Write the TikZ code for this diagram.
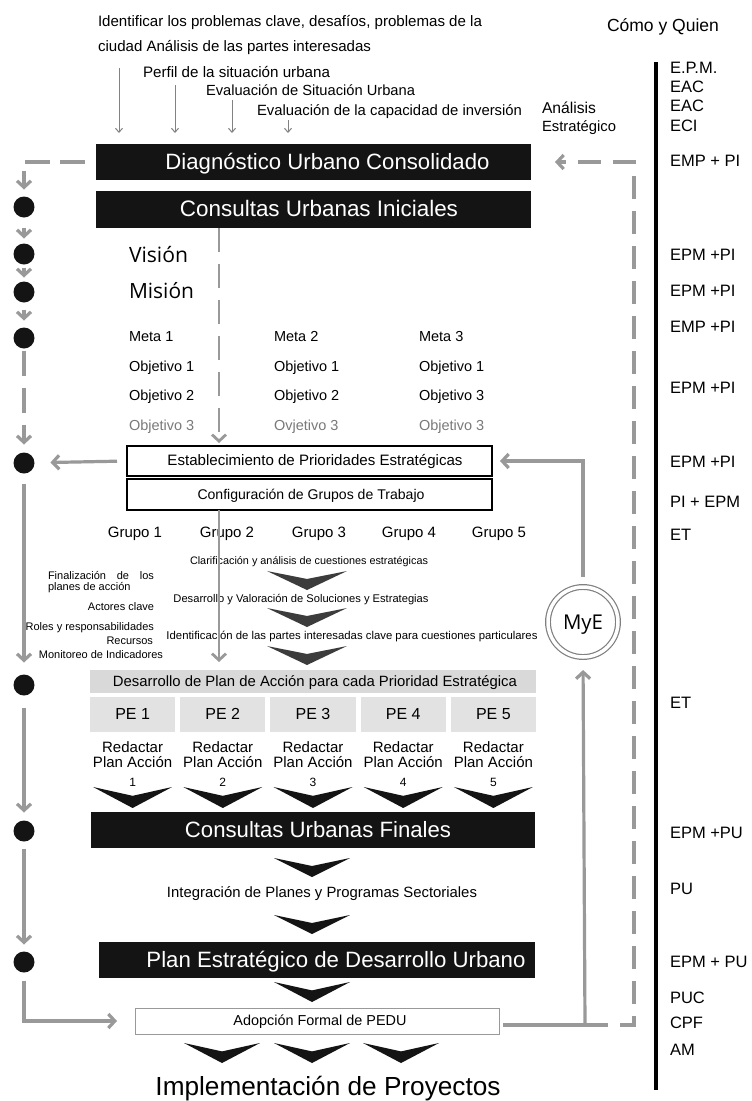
\documentclass[tikz,border=0pt]{standalone}
\usepackage{fontspec}
\setmainfont{Liberation Sans}
\newfontfamily\osf{Open Sans}
\usetikzlibrary{arrows.meta}
\definecolor{lineg}{HTML}{999999}
\definecolor{boxk}{HTML}{141414}
\definecolor{hdr}{HTML}{D9D9D9}
\definecolor{pec}{HTML}{E2E2E2}
\definecolor{chevg}{HTML}{3C3C3C}
\definecolor{txtg}{HTML}{7A7A7A}
\newcommand\tw[2]{\resizebox{#1pt}{!}{\vphantom{Ág}#2}}
\newcommand\chev[5]{\fill[#5] (#1-#3/2,#2) -- (#1,#2+#4*0.42) -- (#1+#3/2,#2) -- (#1,#2+#4) -- cycle;}
\begin{document}
\begin{tikzpicture}[x=1pt,y=-1pt,
  every node/.style={inner sep=0pt,outer sep=0pt},
  gline/.style={draw=lineg,line width=3.2pt},
  garrow/.style={gline,-{Straight Barb[length=6.5pt,width=14pt]}},
  rdash/.style={gline,dash pattern=on 23pt off 12pt},
  thinarr/.style={draw=lineg!85!black,line width=1pt,-{Straight Barb[length=4pt,width=7pt]}},
  blackbox/.style={fill=boxk,text=white,minimum width=435pt,minimum height=36pt},
  whitebox/.style={draw=black,line width=1.3pt,fill=white,minimum width=365pt,minimum height=30pt},
  circ/.style={circle,fill=boxk,minimum size=21pt},
  rl/.style={anchor=west,font=\fontsize{16.5}{18}\selectfont},
  obj/.style={anchor=west,font=\fontsize{14.5}{16}\selectfont},
  grp/.style={font=\fontsize{15}{16}\selectfont},
  lt/.style={font=\fontsize{11}{12}\selectfont},
  pecell/.style={fill=pec,minimum width=85.2pt,minimum height=35pt,font=\fontsize{16}{16}\selectfont},
  red/.style={align=center,font=\fontsize{15}{15}\selectfont}
]
\fill[white] (0,0) rectangle (752,1101);
\useasboundingbox (0,0) rectangle (752,1101);

% ---------- top texts ----------
\node[anchor=west] (t1) at (98,22) {\tw{384}{Identificar los problemas clave, desafíos, problemas de la}};
\node[anchor=west] (t2) at (98,47) {\tw{273}{ciudad Análisis de las partes interesadas}};
\node[anchor=west] (t3) at (143,72) {\tw{187}{Perfil de la situación urbana}};
\node[anchor=west] (t4) at (206,91) {\tw{209}{Evaluación de Situación Urbana}};
\node[anchor=west] (t5) at (257,111) {\tw{265}{Evaluación de la capacidad de inversión}};
\node[anchor=west] (ae1) at (542,108) {\tw{54}{Análisis}};
\node[anchor=west] (ae2) at (542,127) {\tw{74}{Estratégico}};
\node[anchor=west] (cq) at (607,26) {\tw{112}{Cómo y Quien}};

% ---------- main boxes ----------
\node[blackbox] (diag) at (313.5,162) {\hspace*{28pt}\tw{324}{Diagnóstico Urbano Consolidado}};
\node[blackbox,minimum height=37pt] (cui) at (313.5,209.5) {\hspace*{11pt}\tw{278}{Consultas Urbanas Iniciales}};

\coordinate (a1) at (119,68);
\coordinate (a2) at (175,85);
\coordinate (a3) at (232,100);
\coordinate (a4) at (288,120);
\foreach \a in {a1,a2,a3,a4}{\draw[thinarr,shorten >=11pt] (\a) -- (\a |- diag.north);}

% ---------- vision / mision / metas ----------
\node[anchor=west] (vis) at (129,255) {\osf\tw{59}{Visión}};
\node[anchor=west] (mis) at (129,291) {\osf\tw{65}{Misión}};
\node[obj] (m1) at (129,337) {Meta 1};
\node[obj] (m2) at (274,337) {Meta 2};
\node[obj] (m3) at (419,337) {Meta 3};
\node[obj] (o11) at (129,368) {Objetivo 1};
\node[obj] (o21) at (274,368) {Objetivo 1};
\node[obj] (o31) at (419,368) {Objetivo 1};
\node[obj] (o12) at (129,397) {Objetivo 2};
\node[obj] (o22) at (274,397) {Objetivo 2};
\node[obj] (o32) at (419,397) {Objetivo 3};
\node[obj,text=txtg] (o13) at (129,427) {Objetivo 3};
\node[obj,text=txtg] (o23) at (274,427) {Ovjetivo 3};
\node[obj,text=txtg] (o33) at (419,427) {Objetivo 3};

% ---------- prioridades ----------
\node[whitebox] (estab) at (309.5,461) {\hspace*{11pt}\tw{295}{Establecimiento de Prioridades Estratégicas}};
\node[whitebox,minimum height=31pt] (config) at (309.5,494.5) {\hspace*{3pt}\tw{227}{Configuración de Grupos de Trabajo}};

\node[grp] (g1) at (135,534) {Grupo 1};
\node[grp] (g2) at (227,534) {Grupo 2};
\node[grp] (g3) at (319,534) {Grupo 3};
\node[grp] (g4) at (409,534) {Grupo 4};
\node[grp] (g5) at (499,534) {Grupo 5};

\node (q1) at (309,561) {\tw{238}{Clarificación y análisis de cuestiones estratégicas}};
\chev{307}{571}{80}{19}{chevg}
\node (q2) at (301,599) {\tw{255}{Desarrollo y Valoración de Soluciones y Estrategias}};
\chev{307}{608}{80}{19}{chevg}
\node (q3) at (352,636) {\tw{371}{Identificación de las partes interesadas clave para cuestiones particulares}};
\chev{307}{646}{80}{19}{chevg}

\node[lt,anchor=west] (l1) at (48,575) {\makebox[106pt][s]{Finalización de los}};
\node[lt,anchor=west] (l2) at (48,588) {planes de acción};
\node[lt,anchor=east] (l3) at (154,607) {Actores clave};
\node[lt,anchor=east] (l4) at (154,628) {Roles y responsabilidades};
\node[lt,anchor=east] (l5) at (153,641) {Recursos};
\node[lt,anchor=east] (l6) at (163,655) {Monitoreo de Indicadores};

% ---------- plan de accion ----------
\node[fill=hdr,minimum width=446pt,minimum height=23pt] (hdr) at (313,681.5) {\hspace*{4pt}\tw{404}{Desarrollo de Plan de Acción para cada Prioridad Estratégica}};
\foreach \i/\cx in {1/132.6,2/222.8,3/313.0,4/403.2,5/493.4}{
  \node[pecell] (pe\i) at (\cx,714.5) {\vphantom{Ág}PE \i};
  \node[red] (rd\i) at (\cx,754.5) {Redactar\\Plan Acción};
  \chev{\cx}{787}{79}{21}{boxk}
  \node[font=\fontsize{12}{12}\selectfont] (n\i) at (\cx,782) {\i};
}

% ---------- final stages ----------
\node[blackbox,minimum width=444pt] (cuf) at (313,830) {\hspace*{10pt}\tw{266}{Consultas Urbanas Finales}};
\chev{312}{858}{76}{19}{boxk}
\node (integ) at (322,893) {\tw{310}{Integración de Planes y Programas Sectoriales}};
\chev{312}{915}{76}{19}{boxk}
\node[blackbox,minimum width=436pt] (ped) at (317,960) {\hspace*{38pt}\tw{379}{Plan Estratégico de Desarrollo Urbano}};
\chev{312}{982}{76}{20}{boxk}
\node[draw=lineg,line width=1pt,fill=white,minimum width=364pt,minimum height=26pt] (adop) at (317,1021) {\hspace*{6pt}\tw{173}{Adopción Formal de PEDU}};
\chev{222}{1043}{76}{20}{boxk}
\chev{312}{1043}{76}{20}{boxk}
\chev{401}{1043}{76}{20}{boxk}
\node (impl) at (328,1087) {\tw{345}{Implementación de Proyectos}};

% ---------- MyE ----------
\node[circle,draw=gray,line width=1.2pt,double=white,double distance=3.5pt,minimum size=70pt] (mye) at (583,622) {\osf\tw{40}{MyE}};

% ---------- left column ----------
\node[circ] (c1) at (24,207) {};
\node[circ] (c2) at (24,254) {};
\node[circ] (c3) at (24,292) {};
\node[circ] (c4) at (24,338) {};
\node[circ] (c5) at (24,463) {};
\node[circ] (c6) at (24,685) {};
\node[circ] (c7) at (24,831) {};
\node[circ] (c8) at (24,962) {};
\coordinate (lc) at (24,162);

\draw[garrow,dash pattern=on 25pt off 10pt,shorten <=11pt,shorten >=7pt] (diag.west) -- (lc) -- (c1);
\draw[garrow,shorten <=10pt,shorten >=5pt] (c1) -- (c2);
\draw[garrow,shorten <=3pt,shorten >=4pt] (c2) -- (c3);
\draw[garrow,shorten <=7pt,shorten >=7pt] (c3) -- (c4);
\draw[garrow,dash pattern=on 25pt off 12pt,shorten <=2pt,shorten >=8pt] (c4) -- (c5);
\draw[garrow,shorten <=10pt,shorten >=16pt] (estab.west) -- (c5);
\draw[garrow,shorten <=10pt,shorten >=12pt] (c5) -- (c6);
\draw[garrow,shorten <=12pt,shorten >=8pt] (c6) -- (c7);
\draw[garrow,shorten <=7pt,shorten >=7pt] (c7) -- (c8);
\draw[garrow,shorten <=8pt,shorten >=18pt] (c8) -- (c8 |- adop.west) -- (adop.west);

% ---------- centre verticals ----------
\coordinate (dv) at (219,300);
\draw[garrow,line width=2.8pt,dash pattern=on 24pt off 12pt,shorten >=3pt] (cui.south -| dv) -- (estab.north -| dv);
\draw[garrow,line width=2.8pt,shorten >=8pt] (config.south -| dv) -- (hdr.north -| dv);

% ---------- right side ----------
\draw[garrow,shorten <=10pt,shorten >=8pt] (mye.north) -- (mye.north |- estab.east) -- (estab.east);
\coordinate (jn) at (585,1025);
\coordinate (rc1) at (634,1025);
\coordinate (rc2) at (634,162);
\draw[gline,shorten <=4pt] (adop.east |- jn) -- (jn);
\draw[garrow,shorten >=13pt] (jn) -- (mye.south);
\draw[rdash,-{Straight Barb[length=6.5pt,width=14pt]},shorten >=24pt] (jn) -- (rc1) -- (rc2) -- (diag.east);

\coordinate (bt) at (656,62);
\coordinate (bb) at (656,1090);
\draw[line width=3.8pt,black] (bt) -- (bb);

\node[rl] (r1) at (670,68) {E.P.M.};
\node[rl] (r2) at (670,87) {EAC};
\node[rl] (r3) at (670,106) {EAC};
\node[rl] (r4) at (670,126) {ECI};
\node[rl] (r5) at (670,161) {EMP + PI};
\node[rl] (r6) at (670,255) {EPM +PI};
\node[rl] (r7) at (670,291) {EPM +PI};
\node[rl] (r8) at (670,327) {EMP +PI};
\node[rl] (r9) at (670,388) {EPM +PI};
\node[rl] (r10) at (670,462) {EPM +PI};
\node[rl] (r11) at (670,502) {PI + EPM};
\node[rl] (r12) at (670,535) {ET};
\node[rl] (r13) at (670,703) {ET};
\node[rl] (r14) at (670,833) {EPM +PU};
\node[rl] (r15) at (670,889) {PU};
\node[rl] (r16) at (670,962) {EPM + PU};
\node[rl] (r17) at (670,998) {PUC};
\node[rl] (r18) at (670,1023) {CPF};
\node[rl] (r19) at (670,1050) {AM};
\end{tikzpicture}
\end{document}
